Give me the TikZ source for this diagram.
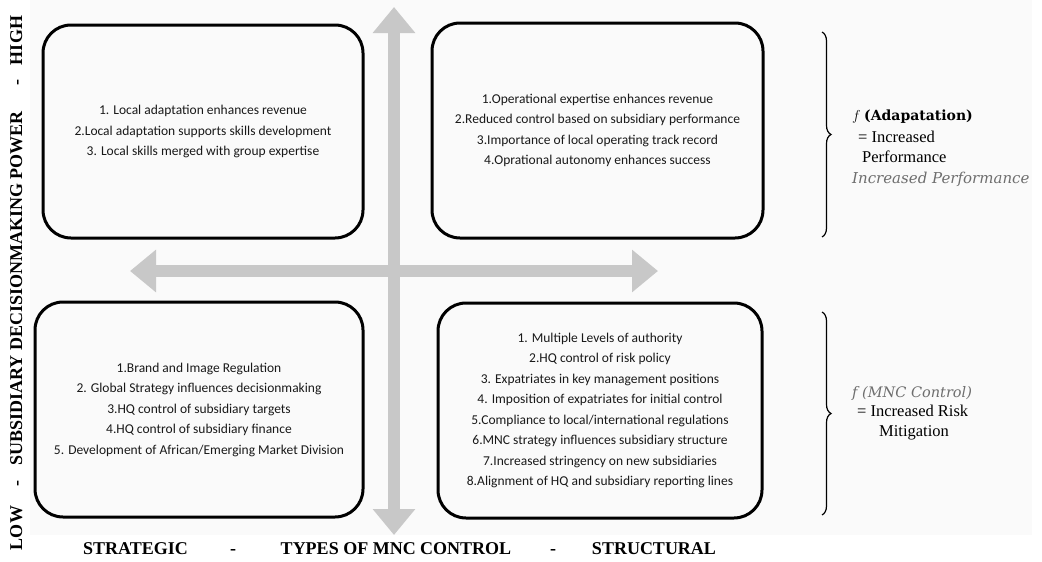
\documentclass[tikz,border=0pt]{standalone}
\usepackage{fontspec}
\setmainfont{Liberation Serif}
\newfontfamily\boxfont{Carlito}
\newfontfamily\djserif{DejaVu Serif}
\usetikzlibrary{arrows.meta, positioning, decorations.pathreplacing}
\definecolor{axisgray}{RGB}{200,200,200}
\definecolor{panelgray}{RGB}{250,250,250}
\definecolor{notegray}{RGB}{110,110,110}

\begin{document}
\begin{tikzpicture}[
    x=1pt, y=-1pt,
    quad/.style={rectangle, draw, line width=3pt, rounded corners=28pt, align=center, inner sep=0pt,
        font=\boxfont\fontsize{13.5}{20.5}\selectfont, text=black!90},
    axis/.style={line width=12pt, draw=axisgray,
        {Triangle[length=26pt, width=41pt]}-{Triangle[length=26pt, width=41pt]}},
    label/.style={font=\bfseries\fontsize{18}{20}\selectfont, anchor=base, inner sep=0pt},
    note/.style={anchor=base west, inner sep=0pt, font=\fontsize{16.5}{18}\selectfont},
    brace/.style={decorate, decoration={brace, amplitude=9pt}, line width=1.2pt}
]
\useasboundingbox (0,0) rectangle (1042,562);
\fill[panelgray] (30,0) rectangle (1032,535);

% Axes
\coordinate (vtop) at (394,7);
\coordinate (vbot) at (394,535);
\coordinate (hleft) at (130,271);
\coordinate (hright) at (658,271);
\draw[axis] (vtop) -- (vbot);
\draw[axis] (hleft) -- (hright);

% Quadrants
\node[quad, minimum width=320pt, minimum height=213pt] (adapt) at (203,131.5)
    {1. Local adaptation enhances revenue\\2.Local adaptation supports skills development\\3. Local skills merged with group expertise};
\node[quad, minimum width=331pt, minimum height=215pt] (oper) at (597.5,130.5)
    {1.Operational expertise enhances revenue\\2.Reduced control based on subsidiary performance\\3.Importance of local operating track record\\4.Oprational autonomy enhances success};
\node[quad, minimum width=328pt, minimum height=215pt] (strat) at (199,409.5)
    {1.Brand and Image Regulation\\2. Global Strategy influences decisionmaking\\3.HQ control of subsidiary targets\\4.HQ control of subsidiary finance\\5. Development of African/Emerging Market Division};
\node[quad, minimum width=324pt, minimum height=215pt] (struct) at (600,410.5)
    {1. Multiple Levels of authority\\2.HQ control of risk policy\\3. Expatriates in key management positions\\4. Imposition of expatriates for initial control\\5.Compliance to local/international regulations\\6.MNC strategy influences subsidiary structure\\7.Increased stringency on new subsidiaries\\8.Alignment of HQ and subsidiary reporting lines};

% Braces and outcomes
\coordinate (btop1) at (822,32);
\coordinate (btop2) at (822,237);
\coordinate (bbot1) at (822,312);
\coordinate (bbot2) at (822,515);
\draw[brace] (btop1) -- (btop2);
\draw[brace] (bbot1) -- (bbot2);

\node[note, font=\fontsize{14}{16}\selectfont] (fadapt) at (852,120) {$f$ {\djserif\bfseries (Adapatation)}};
\node[note] (incr1) at (858,142) {= Increased};
\node[note] (perf) at (862,162) {Performance};
\node[note, font=\djserif\itshape\fontsize{15}{17}\selectfont, text=notegray] (perfit) at (852,183) {Increased Performance};

\node[note, font=\djserif\itshape\fontsize{14.5}{16}\selectfont, text=notegray] (fmnc) at (852,397) {f (MNC Control)};
\node[note] (incr2) at (857,416) {= Increased Risk};
\node[note] (mitig) at (879,436) {Mitigation};

% Axis titles
\node[label] (strategic) at (135.5,554) {STRATEGIC};
\node[label] (dash1) at (233,554) {-};
\node[label] (types) at (396,554) {TYPES OF MNC CONTROL};
\node[label] (dash2) at (553,554) {-};
\node[label] (structural) at (654,554) {STRUCTURAL};

\node[label, rotate=90] (low) at (22,528) {LOW};
\node[label, rotate=90] (dash3) at (22,483) {-};
\node[label, rotate=90] (power) at (22,288.5) {SUBSIDIARY DECISIONMAKING POWER};
\node[label, rotate=90] (dash4) at (22,83) {-};
\node[label, rotate=90] (high) at (22,40.5) {HIGH};

\end{tikzpicture}
\end{document}
